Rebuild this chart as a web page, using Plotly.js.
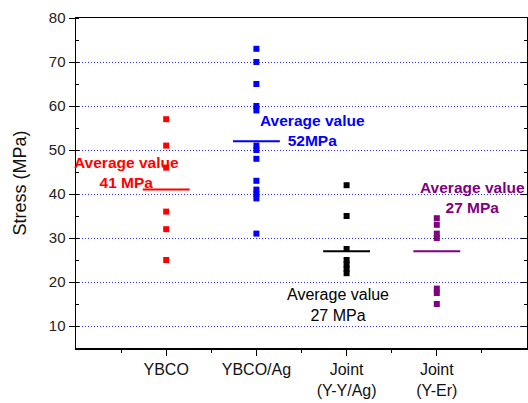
<!DOCTYPE html>
<html><head><meta charset="utf-8">
<script src="https://cdn.plot.ly/plotly-3.0.1.min.js"></script>
<style>html,body{margin:0;padding:0;background:#fff}</style>
</head><body><div id="c" style="width:528px;height:403px"></div>
<script>
const categories = ["YBCO", "YBCO/Ag", "Joint<br>(Y-Y/Ag)", "Joint<br>(Y-Er)"];
const ybco = [57, 51, 46, 36, 32, 25];
const ybcoAg = [73, 70, 65, 60, 59, 51, 50, 48, 43, 41, 40, 39, 31];
const jointYY = [42, 35, 27.5, 25, 24, 23, 22];
const jointYEr = [34.5, 33, 31, 30, 18.5, 17.5, 15];
const averages = [41, 52, 27, 27];
const avgLabels = ["Average value<br>41 MPa", "Average value<br>52MPa", "Average value<br>27 MPa", "Average value<br>27 MPa"];
const colors = ["#ff0000", "#0000ff", "#000000", "#800080"];
const series = [ybco, ybcoAg, jointYY, jointYEr];

const traces = [];
series.forEach((vals, i) => {
  traces.push({
    type: "scatter", mode: "markers",
    x: vals.map(() => i + 1), y: vals,
    marker: {symbol: "square", size: 6, color: colors[i]},
    showlegend: false, hoverinfo: "y"
  });
  traces.push({
    type: "scatter", mode: "lines",
    x: [i + 1 - 0.26, i + 1 + 0.26], y: [averages[i], averages[i]],
    line: {color: colors[i], width: 2},
    showlegend: false
  });
});
traces.push({type: "scatter", x: [], y: [], yaxis: "y2", showlegend: false});

const annFont = "Liberation Sans, Arial, sans-serif";
const annPos = [[0.565, 44.8], [2.617, 54.5], [2.905, 14.8], [4.4, 39.1]];
const annotations = avgLabels.map((t, i) => ({
  x: annPos[i][0], y: annPos[i][1], xref: "x", yref: "y",
  text: i === 2 ? t : "<b>" + t + "</b>",
  showarrow: false,
  font: {family: annFont, size: i === 2 ? 16 : 15.5, color: colors[i]},
  align: "center"
}));

const layout = {
  width: 528, height: 403,
  margin: {l: 76, r: 1, t: 18, b: 55},
  paper_bgcolor: "#fff", plot_bgcolor: "#fff",
  font: {family: "Liberation Sans, Arial, sans-serif", color: "#000"},
  xaxis: {
    range: [0, 5], tickvals: [1, 2, 3, 4], ticktext: categories,
    showgrid: false, zeroline: false,
    showline: true, linecolor: "#000", linewidth: 1.5, mirror: true,
    ticks: "outside", ticklen: 6, tickwidth: 1, tickcolor: "#000",
    minor: {tickvals: [0.5, 1.5, 2.5, 3.5, 4.5], ticks: "outside", ticklen: 3, tickcolor: "#000"},
    tickfont: {size: 16, color: "#111"}
  },
  yaxis: {
    range: [5, 80], tickvals: [10, 20, 30, 40, 50, 60, 70, 80],
    showgrid: true, gridcolor: "#2a2aff", griddash: "1px,2px", gridwidth: 1,
    zeroline: false,
    showline: true, linecolor: "#000", linewidth: 1.5, mirror: true,
    ticks: "outside", ticklen: 6, tickwidth: 1, tickcolor: "#000",
    minor: {dtick: 5, ticks: "inside", ticklen: 3, tickcolor: "#000", showgrid: false},
    tickfont: {size: 15, color: "#222"},
    title: {text: "Stress (MPa)", font: {size: 18, color: "#111"}, standoff: 17}
  },
  yaxis2: {
    overlaying: "y", side: "right", range: [5, 80], dtick: 10, tick0: 0,
    showgrid: false, zeroline: false, showline: false, showticklabels: false,
    ticks: "inside", ticklen: 6, tickwidth: 1, tickcolor: "#000",
    minor: {dtick: 5, ticks: "inside", ticklen: 3, tickcolor: "#000", showgrid: false}
  },
  annotations: annotations
};
Plotly.newPlot("c", traces, layout, {displayModeBar: false, staticPlot: true});
</script></body></html>
